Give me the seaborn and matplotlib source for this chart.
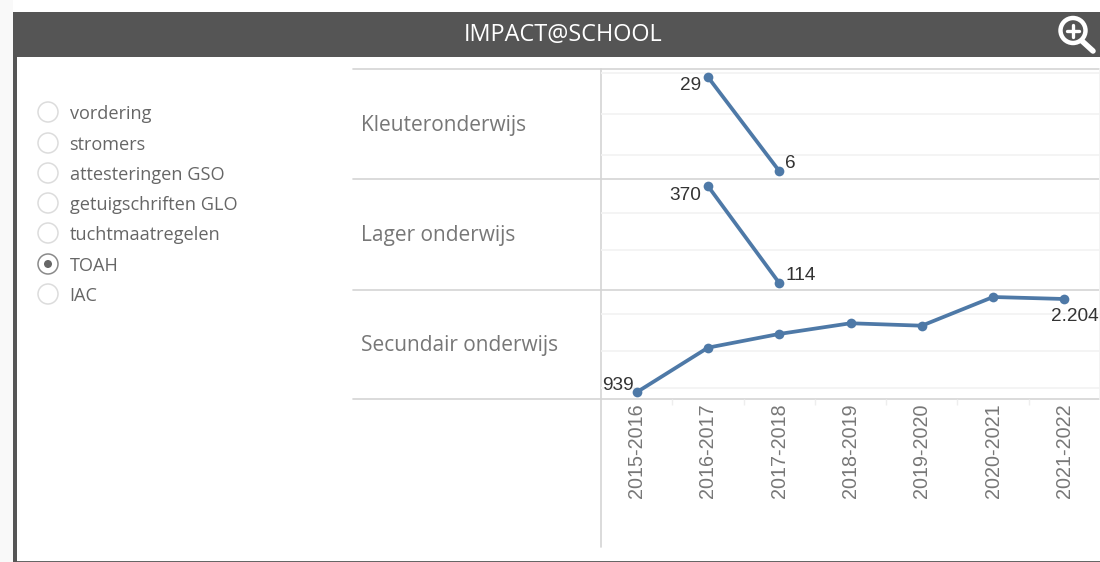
import matplotlib
matplotlib.use("Agg")
import matplotlib.pyplot as plt
from matplotlib.patches import Circle, Rectangle
from matplotlib.lines import Line2D
import pandas as pd
import seaborn as sns

W, H = 1100, 562

years = ["2015-2016", "2016-2017", "2017-2018", "2018-2019", "2019-2020", "2020-2021", "2021-2022"]
levels = ["Kleuteronderwijs", "Lager onderwijs", "Secundair onderwijs"]
kleuter_years = ["2016-2017", "2017-2018"]
kleuter_values = [29, 6]
lager_years = ["2016-2017", "2017-2018"]
lager_values = [370, 114]
secundair_years = years
secundair_values = [939, 1544, 1730, 1875, 1842, 2231, 2204]
options = ["vordering", "stromers", "attesteringen GSO", "getuigschriften GLO",
           "tuchtmaatregelen", "TOAH", "IAC"]
selected = "TOAH"
title = "IMPACT@SCHOOL"

df = pd.concat([
    pd.DataFrame({"niveau": levels[0], "jaar": kleuter_years, "aantal": kleuter_values}),
    pd.DataFrame({"niveau": levels[1], "jaar": lager_years, "aantal": lager_values}),
    pd.DataFrame({"niveau": levels[2], "jaar": secundair_years, "aantal": secundair_values}),
])
df["pos"] = df["jaar"].map({y: i for i, y in enumerate(years)})

LINE = "#4e79a7"
RULE = "#d4d4d4"
GRID = "#f2f2f2"
DARK = "#555555"
UI_FONT = "Open Sans"
NUM_FONT = "Liberation Sans"

sns.set_theme(style="white")
plt.rcParams["font.family"] = ["Open Sans", "DejaVu Sans"]

fig = plt.figure(figsize=(W / 100, H / 100), dpi=100, facecolor="white")

# overlay in pixel coordinates for the dashboard chrome
ui = fig.add_axes([0, 0, 1, 1], zorder=0)
ui.set_xlim(0, W)
ui.set_ylim(H, 0)
ui.axis("off")
ui.add_patch(Rectangle((0, 0), 13, H, color="#f9f9f9", lw=0))
ui.add_patch(Rectangle((13, 11.5), W - 13, 45.5, color=DARK, lw=0))
ui.add_patch(Rectangle((13, 57), 4, H - 57, color=DARK, lw=0))
ui.add_patch(Rectangle((17, 560.5), W - 17, 1.5, color="#666666", lw=0))
ui.text(563, 35, title, color="white", fontsize=16.9, ha="center", va="center", family=UI_FONT)

# magnifier icon
ui.add_patch(Circle((1073, 30.5), 12.5, fill=False, ec="white", lw=3.2))
ui.add_line(Line2D([1082, 1093], [41, 51], color="white", lw=4, solid_capstyle="round"))
ui.add_line(Line2D([1067, 1079], [30.5, 30.5], color="white", lw=2.4))
ui.add_line(Line2D([1073, 1073], [24.5, 36.5], color="white", lw=2.4))

# radio list
radio_y = [112, 143, 173, 203, 233, 264, 294]
for name, y in zip(options, radio_y):
    on = name == selected
    ui.add_patch(Circle((48, y), 10, fc="white", ec="#8a8a8a" if on else "#dcdcdc", lw=1.1))
    if on:
        ui.add_patch(Circle((48, y), 4, fc="#666666", ec="none"))
    ui.text(69.5, y + 2, name, color="#666666", fontsize=13.05, va="center", family=UI_FONT)

# row rules and labels
for y in [69, 179, 290, 399]:
    ui.add_line(Line2D([353, W], [y, y], color=RULE, lw=1.2))
for name, y in zip(levels, [126, 236, 346]):
    ui.text(361, y, name, color="#777777", fontsize=15, va="center", family=UI_FONT)
ui.add_line(Line2D([601, 601], [69, 547], color=RULE, lw=1.2))

panels = [
    (69, 179, (4.04, 30.96), [10, 20, 30]),
    (179, 290, (95.5, 388.5), [200, 300]),
    (290, 399, (848, 2326), [1000, 1500, 2000]),
]
label_offsets = {
    (levels[0], 29): (-7, -8, "right"), (levels[0], 6): (6, 7, "left"),
    (levels[1], 370): (-7, -9, "right"), (levels[1], 114): (6, 7, "left"),
    (levels[2], 939): (-3, 7, "right"), (levels[2], 2204): (34, -18, "right"),
}

for level, (top, bottom, ylim, grid) in zip(levels, panels):
    ax = fig.add_axes([601 / W, 1 - bottom / H, (W - 601) / W, (bottom - top) / H], zorder=2)
    ax.patch.set_alpha(0)
    sub = df[df["niveau"] == level]
    sns.lineplot(data=sub, x="pos", y="aantal", ax=ax, color=LINE, linewidth=2.7,
                 marker="o", markersize=7, markeredgewidth=0, errorbar=None, zorder=3)
    ax.set_xlim(-0.5, 6.5)
    ax.set_ylim(*ylim)
    ax.set_xlabel("")
    ax.set_ylabel("")
    ax.set_yticks(grid)
    ax.set_yticklabels([])
    ax.tick_params(axis="y", length=0)
    ax.grid(axis="y", color=GRID, lw=1.2)
    ax.set_axisbelow(True)
    for s in ax.spines.values():
        s.set_visible(False)
    ax.spines["right"].set_visible(True)
    ax.spines["right"].set_color(GRID)
    for x, v in zip(sub["pos"], sub["aantal"]):
        key = (level, v)
        if key in label_offsets:
            dx, dy, ha = label_offsets[key]
            txt = f"{v:,}".replace(",", ".")
            ax.annotate(txt, (x, v), xytext=(dx * 0.72, dy * 0.72), textcoords="offset points",
                        ha=ha, va="center", fontsize=13.7, color="#333333", family=NUM_FONT, zorder=4)
    if level == levels[-1]:
        ax.set_xticks(range(len(years)))
        ax.set_xticklabels(years, rotation=90, fontsize=14.2, color="#777777", family=NUM_FONT)
        ax.tick_params(axis="x", which="major", length=0, pad=3.5)
        ax.set_xticks([i + 0.5 for i in range(6)], minor=True)
        ax.tick_params(axis="x", which="minor", length=4, color="#eeeeee", width=1, bottom=True)
    else:
        ax.set_xticks([])

fig.savefig("out.png", dpi=100, facecolor="white")
